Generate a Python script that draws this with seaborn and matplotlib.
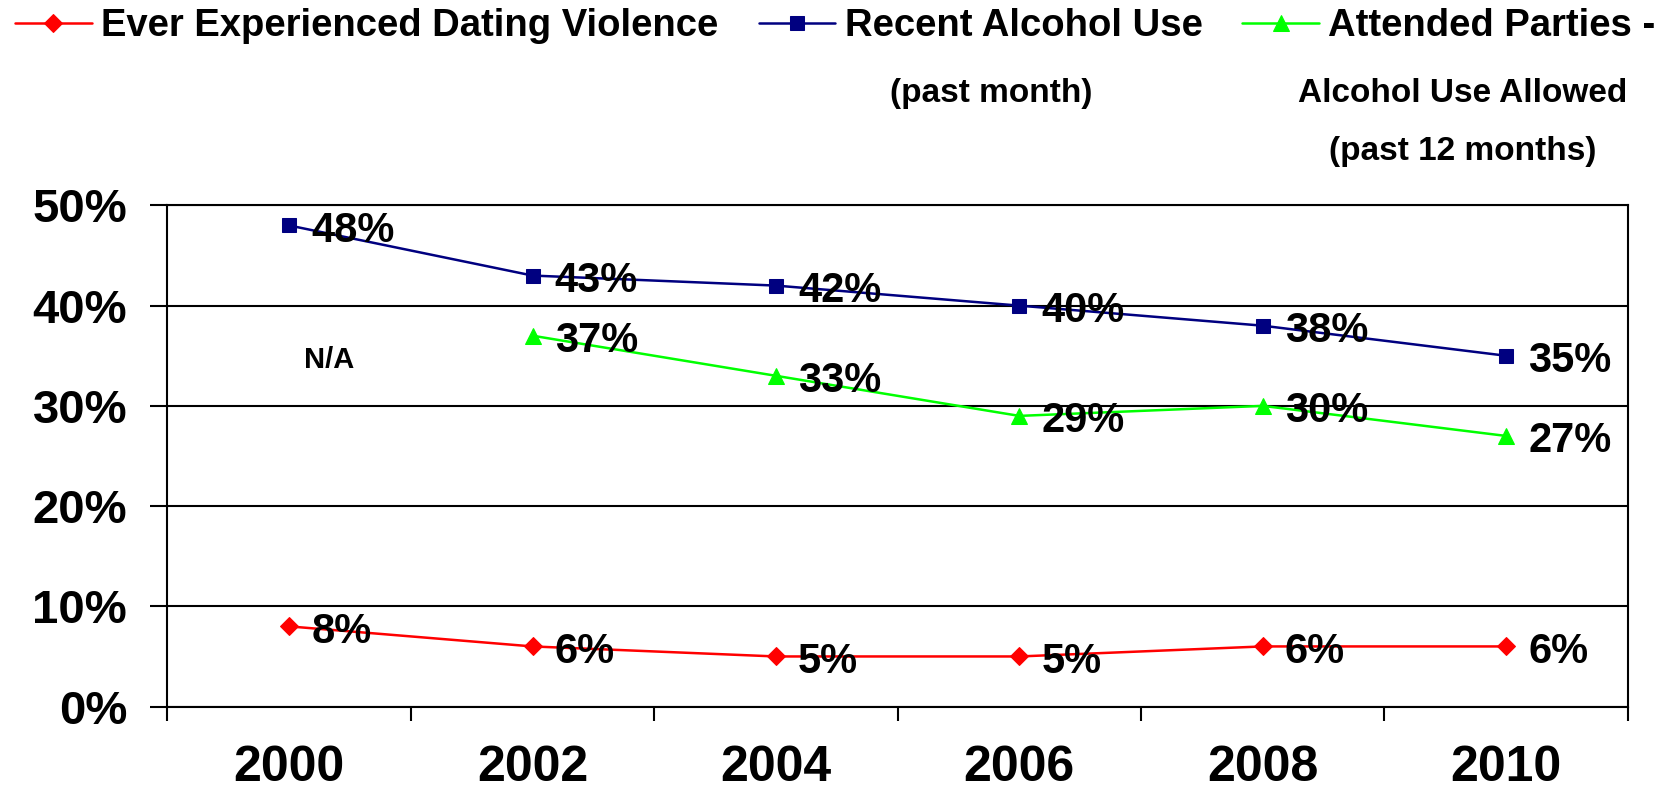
import seaborn as sns
import pandas as pd
import numpy as np
import matplotlib.pyplot as plt
from matplotlib.ticker import FixedLocator, FuncFormatter

years = [2000, 2002, 2004, 2006, 2008, 2010]
dating_violence = [8, 6, 5, 5, 6, 6]
alcohol_use = [48, 43, 42, 40, 38, 35]
parties = [np.nan, 37, 33, 29, 30, 27]

series_names = ["Ever Experienced Dating Violence", "Recent Alcohol Use", "Attended Parties -"]
extra_lines = [[], ["(past month)"], ["Alcohol Use Allowed", "(past 12 months)"]]
extra_centre = [0.5, 0.41, 0.41]
colors = ["#ff0000", "#000080", "#00ff00"]
markers = ["D", "s", "^"]
msizes = [9, 10, 12]

sns.set_theme(style="white")
plt.rcParams['font.family'] = ['Liberation Sans', 'DejaVu Sans']
plt.rcParams['font.weight'] = 'bold'
plt.rcParams['text.color'] = 'black'
plt.rcParams['xtick.color'] = 'black'
plt.rcParams['ytick.color'] = 'black'

fig = plt.figure(figsize=(16.61, 7.90), dpi=100)
ax = fig.add_axes([0.1008, 0.1056, 0.8792, 0.6344])

for name, vals, c, m, ms in zip(series_names, [dating_violence, alcohol_use, parties], colors, markers, msizes):
    df = pd.DataFrame({"year": years, "value": vals}).dropna()
    sns.lineplot(data=df, x="year", y="value", color=c, marker=m, markersize=ms,
                 markeredgecolor=c, linewidth=1.8, label=name, ax=ax)
    for x, y in zip(df["year"], df["value"]):
        ax.annotate(f"{y:.0f}%", xy=(x, y), xytext=(16, -4), textcoords="offset points",
                    ha="left", va="center", fontsize=30, fontweight="bold", color="black")

ax.text(2000.33, 34.6, "N/A", ha="center", va="center", fontsize=21, fontweight="bold", color="black")

ax.set_xlim(1999, 2011)
ax.set_ylim(0, 50)
ax.set_xlabel("")
ax.set_ylabel("")

# major ticks at category boundaries, labels on minor ticks in between
ax.xaxis.set_major_locator(FixedLocator(np.arange(1999, 2012, 2)))
ax.xaxis.set_minor_locator(FixedLocator(years))
ax.xaxis.set_major_formatter(FuncFormatter(lambda v, p: ""))
ax.xaxis.set_minor_formatter(FuncFormatter(lambda v, p: f"{v:.0f}"))
ax.tick_params(axis="x", which="major", direction="out", length=10, width=1.5, color="black", bottom=True)
ax.tick_params(axis="x", which="minor", length=0, pad=28, labelsize=36, labelcolor="black", bottom=True)

ax.set_yticks(np.arange(0, 51, 10))
ax.yaxis.set_major_formatter(FuncFormatter(lambda v, p: f"{v:.0f}%"))
ax.tick_params(axis="y", direction="out", length=12, width=1.5, color="black", pad=17, labelsize=34,
               labelcolor="black", left=True)
for lab in ax.get_xticklabels(minor=True) + ax.get_yticklabels():
    lab.set_fontweight("bold")

ax.yaxis.grid(True, color="black", linewidth=1.5)
ax.xaxis.grid(False)
for s in ax.spines.values():
    s.set_color("black")
    s.set_linewidth(1.5)

handles, labels = ax.get_legend_handles_labels()
ax.get_legend().remove()
leg = fig.legend(handles, labels, loc="upper left", bbox_to_anchor=(0.0, 1.009), ncol=3,
                 frameon=False, handlelength=2.0, handletextpad=0.25, labelcolor="black",
                 columnspacing=1.05, borderaxespad=0.0, prop={"weight": "bold", "size": 27.5})
fig.canvas.draw()
texts = leg.get_texts()
for t, extras, cx in zip(texts, extra_lines, extra_centre):
    for i, line in enumerate(extras):
        ax.annotate(line, xy=(cx, 0), xycoords=t, xytext=(0, -24 - 42 * i),
                    textcoords="offset points", ha="center", va="top",
                    fontsize=24, fontweight="bold", color="black")

fig.savefig("out.png", dpi=100)
